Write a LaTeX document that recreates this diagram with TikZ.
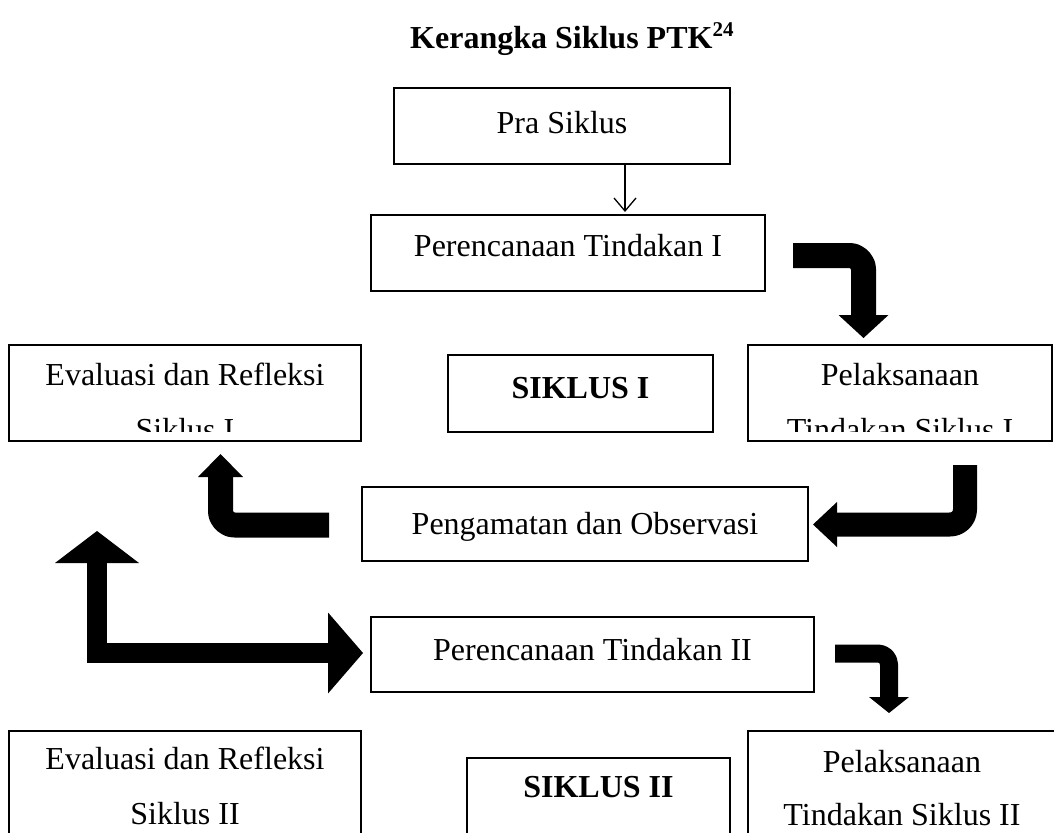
\documentclass[tikz,border=0pt]{standalone}
\usepackage{fontspec}
\setmainfont{Liberation Serif}
\usetikzlibrary{arrows.meta}
\newcommand\bodyfs{\fontsize{32}{38}\selectfont}
\begin{document}
\begin{tikzpicture}[x=1pt,y=-1pt,
  box/.style={draw, line width=1.3pt, inner sep=0pt, outer sep=0pt, anchor=north west},
  lbl/.style={anchor=base, inner sep=0pt, font=\bodyfs},
  lblb/.style={anchor=base, inner sep=0pt, font=\bodyfs\bfseries},
  fat/.style={line width=#1, line join=round, line cap=butt},
  thin/.style={line width=1.3pt, -{Straight Barb[length=13pt,width=22pt,line width=1.3pt]}}
]
\useasboundingbox (0,0) rectangle (1054,832);

% title
\node[anchor=base west, inner sep=0pt, font=\bodyfs\bfseries] (title) at (410,49)
  {Kerangka Siklus PTK\raisebox{12pt}{\fontsize{21}{21}\selectfont 24}};

% boxes
\node[box, minimum width=336pt, minimum height=76pt] (pra) at (394,88) {};
\node[lbl] (praT) at (562,134) {Pra Siklus};

\node[box, minimum width=394pt, minimum height=76pt] (pt1) at (371,215) {};
\node[lbl] (pt1T) at (568,256) {Perencanaan Tindakan I};

\node[box, minimum width=352pt, minimum height=96pt] (ev1) at (9,345) {};
\node[box, minimum width=265pt, minimum height=77pt] (sk1) at (448,355) {};
\node[lblb] (sk1T) at (580.5,398) {SIKLUS I};
\node[box, minimum width=304pt, minimum height=96pt] (pl1) at (748,345) {};
\begin{scope}
  \clip (0,345) rectangle (1054,431);
  \node[lbl] (ev1a) at (185,385) {Evaluasi dan Refleksi};
  \node[lbl] (ev1b) at (185,440) {Siklus I};
  \node[lbl] (pl1a) at (900,385) {Pelaksanaan};
  \node[lbl] (pl1b) at (900,440) {Tindakan Siklus I};
\end{scope}

\node[box, minimum width=446pt, minimum height=74pt] (obs) at (362,487) {};
\node[lbl] (obsT) at (585,534) {Pengamatan dan Observasi};

\node[box, minimum width=443pt, minimum height=75pt] (pt2) at (371,617) {};
\node[lbl] (pt2T) at (592.5,660) {Perencanaan Tindakan II};

\node[box, minimum width=352pt, minimum height=140pt] (ev2) at (9,731) {};
\node[lbl] (ev2a) at (185,769) {Evaluasi dan Refleksi};
\node[lbl] (ev2b) at (185,824) {Siklus II};
\node[box, minimum width=263pt, minimum height=120pt] (sk2) at (467,758) {};
\node[lblb] (sk2T) at (598.5,797) {SIKLUS II};
\node[box, minimum width=330pt, minimum height=140pt] (pl2) at (748,731) {};
\node[lbl] (pl2a) at (902,772) {Pelaksanaan};
\node[lbl] (pl2b) at (902,825) {Tindakan Siklus II};

% connector coordinates
\coordinate (a0s) at (625,164);
\coordinate (a0e) at (625,212);
\coordinate (a1s) at (793,255.5);
\coordinate (a1c) at (863.5,255.5);
\coordinate (a1e) at (863.5,338);
\coordinate (a2s) at (965,465);
\coordinate (a2c) at (965,524.5);
\coordinate (a2e) at (813,524.5);
\coordinate (a3s) at (329,525);
\coordinate (a3c) at (220.5,525);
\coordinate (a3e) at (220.5,454);
\coordinate (a4s) at (97,531);
\coordinate (a4c) at (97,653);
\coordinate (a4e) at (363,653);
\coordinate (a5s) at (835,653.5);
\coordinate (a5c) at (889,653.5);
\coordinate (a5e) at (889,713);

% connectors
\draw[thin] (a0s) -- (a0e);
\draw[fat=25pt, rounded corners=14pt, -{Triangle[width=50pt,length=23pt,line width=0pt]}]
  (a1s) -- (a1c) -- (a1e);
\draw[fat=24pt, rounded corners=15pt, -{Triangle[width=45pt,length=24pt,line width=0pt]}]
  (a2s) -- (a2c) -- (a2e);
\draw[fat=25pt, rounded corners=14pt, -{Triangle[width=45pt,length=23pt,line width=0pt]}]
  (a3s) -- (a3c) -- (a3e);
\draw[line width=20pt, line join=miter, {Triangle[width=84pt,length=32pt,line width=0pt]}-{Triangle[width=81pt,length=35pt,line width=0pt]}]
  (a4s) -- (a4c) -- (a4e);
\draw[fat=18pt, rounded corners=11pt, -{Triangle[width=40pt,length=16pt,line width=0pt]}]
  (a5s) -- (a5c) -- (a5e);
\end{tikzpicture}
\end{document}
